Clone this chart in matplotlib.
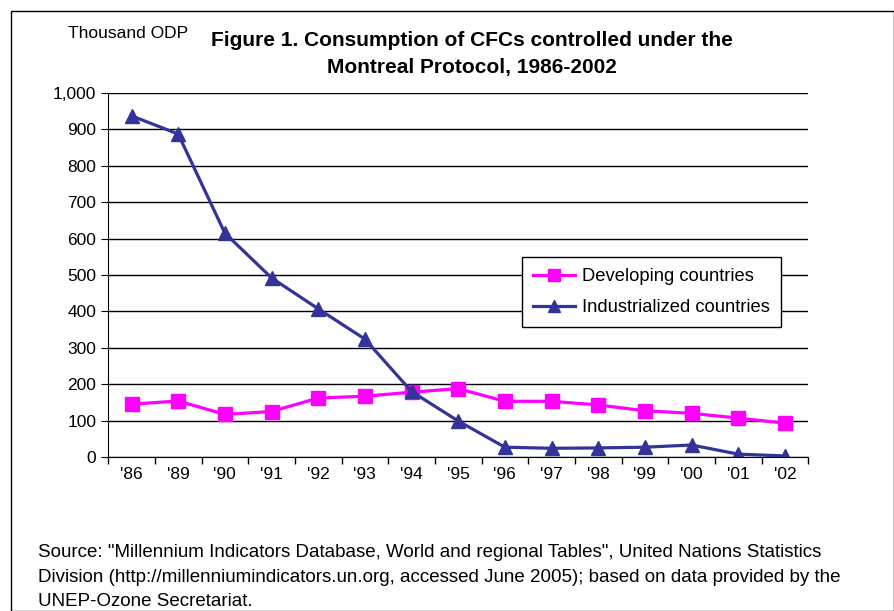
import matplotlib.pyplot as plt
from matplotlib.patches import Rectangle
from matplotlib.ticker import FixedLocator, FuncFormatter

plt.rcParams['font.family'] = ['Liberation Sans', 'DejaVu Sans']

years = ["'86", "'89", "'90", "'91", "'92", "'93", "'94", "'95",
         "'96", "'97", "'98", "'99", "'00", "'01", "'02"]
developing = [145, 154, 117, 125, 162, 167, 178, 188, 153, 153, 143, 127, 120, 107, 93]
industrialized = [937, 887, 615, 492, 407, 324, 180, 99, 27, 24, 25, 27, 33, 8, 3]

fig = plt.figure(figsize=(8.94, 6.11), dpi=100)
fig.patches.append(Rectangle((11 / 894, 0), 1 - 11 / 894, 1 - 11 / 611,
                             transform=fig.transFigure, fill=False,
                             edgecolor='black', linewidth=1))
ax = fig.add_axes([0.121, 0.252, 0.783, 0.596])

x = list(range(len(years)))
ax.plot(x, developing, color='#FF00FF', marker='s', markersize=10,
        linewidth=2.3, label='Developing countries')
ax.plot(x, industrialized, color='#333399', marker='^', markersize=10,
        linewidth=2.3, label='Industrialized countries')

ax.set_xlim(-0.5, len(years) - 0.5)
ax.set_ylim(0, 1000)
ax.set_yticks(range(0, 1001, 100))
ax.yaxis.set_major_formatter(FuncFormatter(lambda v, p: f'{int(v):,}'))
ax.xaxis.set_major_locator(FixedLocator([i - 0.5 for i in range(len(years) + 1)]))
ax.xaxis.set_minor_locator(FixedLocator(x))
ax.set_xticklabels([], minor=False)
ax.set_xticklabels(years, minor=True)
ax.tick_params(axis='x', which='minor', length=0, labelsize=12.5, pad=7)
ax.tick_params(axis='x', which='major', length=5, direction='out', width=1)
ax.tick_params(axis='y', length=5, direction='out', labelsize=12.5)
ax.yaxis.grid(True, color='black', linewidth=1)
ax.set_axisbelow(True)
for s in ['top', 'right']:
    ax.spines[s].set_visible(False)

leg = ax.legend(loc='upper left', bbox_to_anchor=(0.591, 0.548), fontsize=13.2,
                frameon=True, fancybox=False, edgecolor='black', framealpha=1,
                borderpad=0.6, labelspacing=0.75, handlelength=2.3,
                handletextpad=0.4, borderaxespad=0, markerscale=0.9)
leg.get_frame().set_linewidth(1)

fig.text(68 / 894, 1 - 33 / 611, 'Thousand ODP', fontsize=12.5, va='center', ha='left')
fig.text(472 / 894, 1 - 54 / 611,
         'Figure 1. Consumption of CFCs controlled under the\nMontreal Protocol, 1986-2002',
         fontsize=15, fontweight='bold', ha='center', va='center', linespacing=1.5)
fig.text(38 / 894, 1 - 577 / 611,
         'Source: "Millennium Indicators Database, World and regional Tables", United Nations Statistics\n'
         'Division (http://millenniumindicators.un.org, accessed June 2005); based on data provided by the\n'
         'UNEP-Ozone Secretariat.',
         fontsize=13.5, ha='left', va='center', linespacing=1.55)

fig.savefig('out.png', dpi=100)
